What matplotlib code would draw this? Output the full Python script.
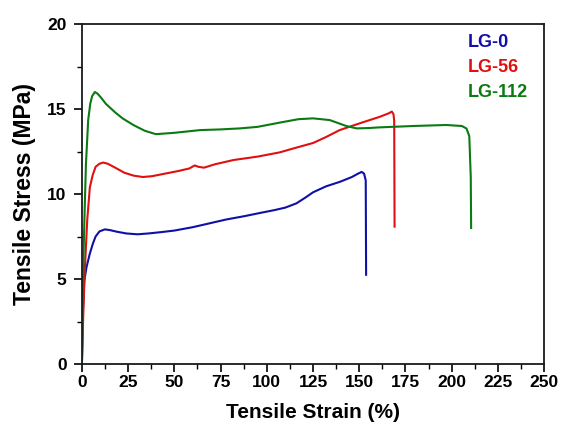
import matplotlib
matplotlib.use("Agg")
import matplotlib.pyplot as plt
from matplotlib.ticker import MultipleLocator

plt.rcParams['font.family'] = ['Liberation Sans', 'DejaVu Sans']

# Stress-strain curves (strain in %, stress in MPa)
lg0_strain = [0, 0.5, 1.3, 2.5, 4.3, 6, 7.4, 9.5, 12.4, 15, 19, 24, 30, 36, 43, 50, 60, 70, 78,
              88, 97, 104, 110, 116, 121, 125, 132, 139.6, 146, 149, 151.3, 152.6, 153.5, 153.7]
lg0_stress = [0, 3.0, 4.9, 5.7, 6.5, 7.1, 7.5, 7.8, 7.92, 7.88, 7.78, 7.68, 7.63, 7.68, 7.76, 7.85,
              8.05, 8.3, 8.5, 8.7, 8.9, 9.05, 9.2, 9.45, 9.8, 10.1, 10.45, 10.72, 11.0, 11.18, 11.3,
              11.2, 10.8, 5.25]

lg56_strain = [0, 0.7, 1.3, 2.0, 2.9, 4.3, 5.8, 7.4, 9.5, 11.5, 14, 18, 23, 28, 33, 38, 45, 52,
               58, 61, 63, 66, 72, 82, 95, 107, 115, 125, 132, 139.4, 150, 161.3, 166, 167.6,
               168.5, 168.9, 169.1]
lg56_stress = [0, 2.8, 4.8, 6.5, 8.5, 10.4, 11.1, 11.6, 11.78, 11.85, 11.78, 11.55, 11.25, 11.08,
               11.0, 11.05, 11.2, 11.35, 11.5, 11.68, 11.6, 11.55, 11.75, 12.0, 12.2, 12.45, 12.7,
               13.0, 13.35, 13.76, 14.15, 14.55, 14.75, 14.85, 14.7, 14.3, 8.08]

lg112_strain = [0, 0.5, 1.0, 1.6, 2.2, 3.4, 4.5, 5.5, 7, 8.5, 10.5, 13, 15, 18, 22, 27.8, 34, 40,
                50, 64, 75, 85.5, 95, 107, 117, 125, 134, 143, 148.6, 155, 161, 179, 197, 205.5,
                208, 209.5, 210.3, 210.5]
lg112_stress = [0, 4.0, 7.0, 9.5, 11.8, 14.35, 15.3, 15.75, 16.0, 15.9, 15.65, 15.3, 15.1, 14.8,
                14.45, 14.06, 13.72, 13.52, 13.6, 13.76, 13.8, 13.86, 13.95, 14.2, 14.4, 14.45,
                14.35, 14.0, 13.86, 13.88, 13.92, 14.0, 14.06, 14.0, 13.85, 13.4, 11.0, 8.0]

series_names = ["LG-0", "LG-56", "LG-112"]
series_colors = ["#1010a8", "#e01010", "#0a7a12"]

x_ticks = [0, 25, 50, 75, 100, 125, 150, 175, 200, 225, 250]
y_ticks = [0, 5, 10, 15, 20]

fig = plt.figure(figsize=(5.61, 4.25), dpi=100)
ax = fig.add_axes([0.146, 0.1435, 0.824, 0.80])

curves = [(lg0_strain, lg0_stress), (lg56_strain, lg56_stress), (lg112_strain, lg112_stress)]
for (xs, ys), c in zip(curves, series_colors):
    ax.plot(xs, ys, color=c, lw=1.5, solid_joinstyle='round')

ax.set_xlim(0, 250)
ax.set_ylim(0, 20)
ax.set_xticks(x_ticks)
ax.set_yticks(y_ticks)
ax.xaxis.set_minor_locator(MultipleLocator(12.5))
ax.yaxis.set_minor_locator(MultipleLocator(2.5))
ax.tick_params(which='major', direction='out', length=6, width=1.2, labelsize=12.5,
               top=False, right=False)
ax.tick_params(axis='x', which='major', pad=2)
ax.tick_params(axis='y', which='major', pad=5)
ax.tick_params(which='minor', direction='out', length=3.5, width=1.0, top=False, right=False)
for lab in ax.get_xticklabels() + ax.get_yticklabels():
    lab.set_fontweight('bold')
for sp in ax.spines.values():
    sp.set_linewidth(1.3)
    sp.set_color('#1a1a1a')

ax.set_xlabel("Tensile Strain (%)", fontsize=15, fontweight='bold')
ax.set_ylabel("Tensile Stress (MPa)", fontsize=16.5, fontweight='bold')
ax.xaxis.set_label_coords(0.5, -0.115)
ax.yaxis.set_label_coords(-0.100, 0.5)

for i, (name, c) in enumerate(zip(series_names, series_colors)):
    ax.text(0.835, 0.945 - i * 0.073, name, transform=ax.transAxes, color=c,
            fontsize=13, fontweight='bold', ha='left', va='center')

fig.savefig("out.png", dpi=100)
